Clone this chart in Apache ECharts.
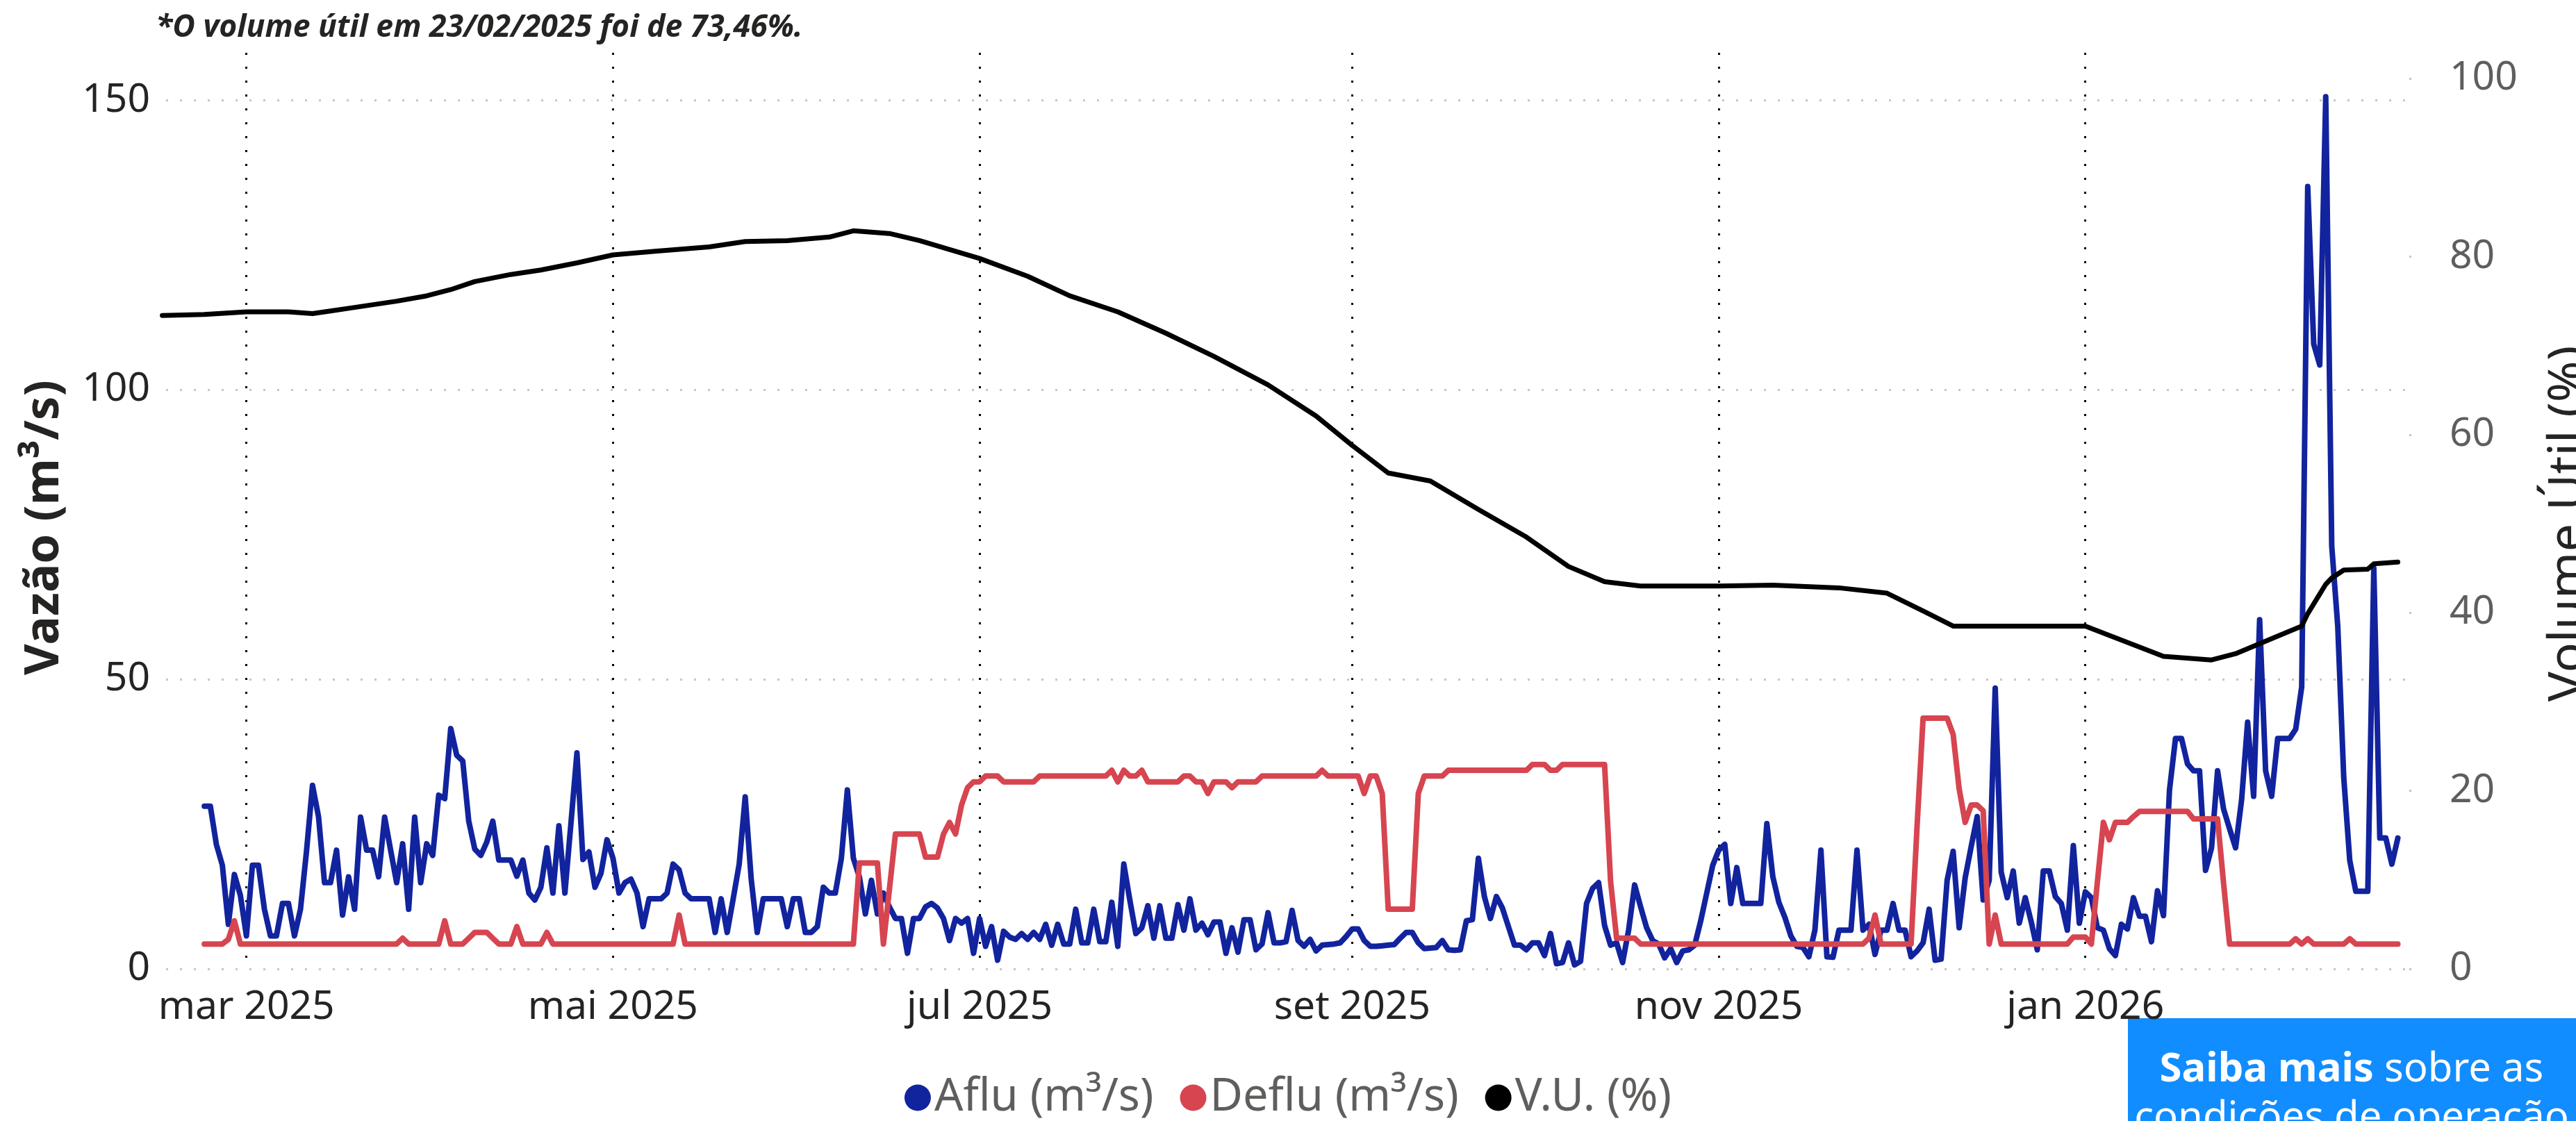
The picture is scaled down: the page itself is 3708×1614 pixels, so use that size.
<!DOCTYPE html>
<html>
<head>
	<meta charset="utf-8">
	<style>
		* { margin: 0; padding: 0; }
		html, body { width: 100%; height: 100%; background: #fff; overflow: hidden; }
		#chart { width: 3708px; height: 1614px; }
	</style>
</head>
<body>
	<div id="chart"></div>
	<script src="https://cdn.jsdelivr.net/npm/echarts@6/dist/echarts.min.js"></script>
	<script>
	// dados diarios a partir de 22/02/2025
	var startDate = [2025, 1, 22];

	var aflu = [
		28.1, 28.1, 21.5, 17.9, 7.7, 16.3, 12.7, 5.7, 17.9, 17.9,
		10.3, 5.7, 5.7, 11.3, 11.3, 5.7, 10.3, 20.3, 31.7, 26.3,
		14.9, 14.9, 20.5, 9.3, 15.9, 10.3, 26.2, 20.5, 20.5, 15.9,
		26.2, 20.5, 14.9, 21.6, 10.3, 26.2, 14.9, 21.6, 19.6, 30.0,
		29.4, 41.5, 36.9, 35.9, 25.5, 20.7, 19.6, 21.9, 25.5, 18.8,
		18.8, 18.8, 16.0, 18.8, 13.1, 11.9, 14.1, 20.9, 13.1, 24.7,
		13.1, 25.1, 37.3, 18.9, 20.2, 14.1, 16.5, 22.3, 19.1, 13.1,
		14.9, 15.5, 13.1, 7.3, 12.1, 12.1, 12.1, 13.1, 18.1, 17.1,
		13.1, 12.1, 12.1, 12.1, 12.1, 6.3, 12.1, 6.3, 12.1, 18.1,
		29.7, 15.5, 6.3, 12.1, 12.1, 12.1, 12.1, 7.3, 12.1, 12.1,
		6.3, 6.3, 7.3, 14.1, 13.1, 13.1, 19.1, 30.9, 19.1, 15.9,
		9.5, 15.3, 9.5, 13.1, 10.7, 8.7, 8.7, 2.7, 8.7, 8.7,
		10.7, 11.3, 10.5, 8.7, 4.9, 8.7, 7.9, 8.7, 2.7, 8.7,
		3.9, 7.3, 1.5, 6.5, 5.5, 5.1, 6.1, 5.1, 6.3, 5.1,
		7.7, 4.1, 7.7, 4.3, 4.3, 10.3, 4.5, 4.5, 10.3, 4.7,
		4.7, 11.5, 3.9, 18.1, 11.9, 6.1, 7.1, 10.9, 5.3, 10.9,
		5.3, 5.3, 11.1, 6.7, 12.1, 6.7, 7.9, 5.9, 8.1, 8.1,
		2.7, 7.1, 2.9, 8.5, 8.5, 3.3, 4.3, 9.7, 4.5, 4.5,
		4.7, 10.1, 4.9, 3.9, 5.1, 3.1, 4.1, 4.2, 4.3, 4.5,
		5.6, 6.9, 6.9, 4.9, 3.9, 3.9, 4.0, 4.1, 4.2, 5.3,
		6.3, 6.3, 4.5, 3.5, 3.6, 3.7, 4.9, 3.3, 3.2, 3.3,
		8.3, 8.5, 19.1, 12.5, 8.7, 12.5, 10.5, 7.3, 4.1, 4.1,
		3.3, 4.5, 4.5, 2.3, 6.1, 0.9, 1.1, 4.5, 0.7, 1.3,
		11.3, 13.9, 14.9, 7.5, 4.1, 4.5, 1.1, 6.7, 14.5, 10.7,
		7.1, 4.9, 4.3, 1.9, 3.5, 1.1, 3.1, 3.3, 4.1, 8.3,
		13.1, 17.9, 20.5, 21.5, 11.3, 17.5, 11.3, 11.3, 11.3, 11.3,
		25.1, 15.9, 11.5, 8.9, 5.7, 3.9, 3.7, 2.1, 6.7, 20.5,
		2.1, 2.0, 6.7, 6.7, 6.7, 20.5, 6.7, 7.7, 2.5, 6.7,
		6.7, 11.3, 6.7, 6.7, 2.1, 3.1, 4.5, 10.3, 1.5, 1.7,
		15.3, 20.3, 7.1, 15.7, 21.1, 26.3, 11.9, 15.3, 48.5, 16.7,
		12.3, 16.9, 7.9, 12.3, 8.1, 3.3, 16.9, 16.9, 12.5, 11.3,
		6.7, 21.3, 7.9, 13.3, 12.3, 7.1, 6.7, 3.5, 2.3, 7.7,
		6.9, 12.3, 9.1, 9.1, 4.7, 13.5, 9.2, 30.9, 39.8, 39.8,
		35.4, 34.2, 34.2, 17.0, 20.9, 34.2, 27.6, 24.2, 20.9, 29.2,
		42.6, 29.8, 60.3, 34.2, 29.8, 39.8, 39.8, 39.8, 41.4, 48.7,
		135.1, 107.9, 104.3, 150.6, 73.0, 59.2, 33.0, 18.7, 13.4, 13.4,
		13.4, 69.2, 22.6, 22.6, 18.1, 22.6
	];

	var deflu = [
		4.3, 4.3, 4.3, 4.3, 5.1, 8.3, 4.3, 4.3, 4.3, 4.3,
		4.3, 4.3, 4.3, 4.3, 4.3, 4.3, 4.3, 4.3, 4.3, 4.3,
		4.3, 4.3, 4.3, 4.3, 4.3, 4.3, 4.3, 4.3, 4.3, 4.3,
		4.3, 4.3, 4.3, 5.3, 4.3, 4.3, 4.3, 4.3, 4.3, 4.3,
		8.3, 4.3, 4.3, 4.3, 5.3, 6.3, 6.3, 6.3, 5.3, 4.3,
		4.3, 4.3, 7.3, 4.3, 4.3, 4.3, 4.3, 6.3, 4.3, 4.3,
		4.3, 4.3, 4.3, 4.3, 4.3, 4.3, 4.3, 4.3, 4.3, 4.3,
		4.3, 4.3, 4.3, 4.3, 4.3, 4.3, 4.3, 4.3, 4.3, 9.3,
		4.3, 4.3, 4.3, 4.3, 4.3, 4.3, 4.3, 4.3, 4.3, 4.3,
		4.3, 4.3, 4.3, 4.3, 4.3, 4.3, 4.3, 4.3, 4.3, 4.3,
		4.3, 4.3, 4.3, 4.3, 4.3, 4.3, 4.3, 4.3, 4.3, 18.3,
		18.3, 18.3, 18.3, 4.3, 13.8, 23.3, 23.3, 23.3, 23.3, 23.3,
		19.3, 19.3, 19.3, 23.3, 25.3, 23.3, 28.3, 31.3, 32.3, 32.3,
		33.3, 33.3, 33.3, 32.3, 32.3, 32.3, 32.3, 32.3, 32.3, 33.3,
		33.3, 33.3, 33.3, 33.3, 33.3, 33.3, 33.3, 33.3, 33.3, 33.3,
		33.3, 34.3, 32.3, 34.3, 33.3, 33.3, 34.3, 32.3, 32.3, 32.3,
		32.3, 32.3, 32.3, 33.3, 33.3, 32.3, 32.3, 30.3, 32.3, 32.3,
		32.3, 31.3, 32.3, 32.3, 32.3, 32.3, 33.3, 33.3, 33.3, 33.3,
		33.3, 33.3, 33.3, 33.3, 33.3, 33.3, 34.3, 33.3, 33.3, 33.3,
		33.3, 33.3, 33.3, 30.3, 33.3, 33.3, 30.3, 10.3, 10.3, 10.3,
		10.3, 10.3, 30.3, 33.3, 33.3, 33.3, 33.3, 34.3, 34.3, 34.3,
		34.3, 34.3, 34.3, 34.3, 34.3, 34.3, 34.3, 34.3, 34.3, 34.3,
		34.3, 35.3, 35.3, 35.3, 34.3, 34.3, 35.3, 35.3, 35.3, 35.3,
		35.3, 35.3, 35.3, 35.3, 15.1, 5.3, 5.3, 5.3, 5.3, 4.3,
		4.3, 4.3, 4.3, 4.3, 4.3, 4.3, 4.3, 4.3, 4.3, 4.3,
		4.3, 4.3, 4.3, 4.3, 4.3, 4.3, 4.3, 4.3, 4.3, 4.3,
		4.3, 4.3, 4.3, 4.3, 4.3, 4.3, 4.3, 4.3, 4.3, 4.3,
		4.3, 4.3, 4.3, 4.3, 4.3, 4.3, 4.3, 5.3, 9.3, 4.3,
		4.3, 4.3, 4.3, 4.3, 4.3, 24.7, 43.3, 43.3, 43.3, 43.3,
		43.3, 40.5, 31.1, 25.3, 28.3, 28.3, 27.3, 4.3, 9.3, 4.3,
		4.3, 4.3, 4.3, 4.3, 4.3, 4.3, 4.3, 4.3, 4.3, 4.3,
		4.3, 5.5, 5.5, 5.5, 4.3, 15.0, 25.3, 22.3, 25.3, 25.3,
		25.3, 26.3, 27.2, 27.2, 27.2, 27.2, 27.2, 27.2, 27.2, 27.2,
		27.2, 25.9, 25.9, 25.9, 25.9, 25.9, 14.8, 4.3, 4.3, 4.3,
		4.3, 4.3, 4.3, 4.3, 4.3, 4.3, 4.3, 4.3, 5.2, 4.3,
		5.2, 4.3, 4.3, 4.3, 4.3, 4.3, 4.3, 5.2, 4.3, 4.3,
		4.3, 4.3, 4.3, 4.3, 4.3, 4.3
	];

	// volume util (%), leituras ao longo da curva
	var vuDates = [
		'2025-02-15', '2025-02-22', '2025-03-01', '2025-03-08', '2025-03-12', '2025-03-15', '2025-03-19',
		'2025-03-26', '2025-03-31', '2025-04-04', '2025-04-08', '2025-04-14', '2025-04-19',
		'2025-04-25', '2025-05-01', '2025-05-08', '2025-05-17', '2025-05-23', '2025-05-30',
		'2025-06-06', '2025-06-10', '2025-06-16', '2025-06-21', '2025-07-01', '2025-07-09',
		'2025-07-16', '2025-07-24', '2025-08-01', '2025-08-09', '2025-08-18', '2025-08-26',
		'2025-09-01', '2025-09-07', '2025-09-14', '2025-09-22', '2025-09-30', '2025-10-07',
		'2025-10-13', '2025-10-19', '2025-11-01', '2025-11-10', '2025-11-21', '2025-11-29',
		'2025-12-05', '2025-12-10', '2025-12-21', '2026-01-01', '2026-01-14', '2026-01-22',
		'2026-01-26', '2026-02-01', '2026-02-06', '2026-02-07', '2026-02-09', '2026-02-10',
		'2026-02-11', '2026-02-13', '2026-02-17', '2026-02-18', '2026-02-22'
	];
	var vu = [
		73.4, 73.5, 73.8, 73.8, 73.6, 73.9, 74.3,
		75.0, 75.6, 76.3, 77.2, 78.0, 78.5,
		79.3, 80.2, 80.6, 81.1, 81.7, 81.8,
		82.2, 82.9, 82.6, 81.8, 79.8, 77.8,
		75.6, 73.8, 71.4, 68.8, 65.6, 62.1,
		58.8, 55.7, 54.8, 51.6, 48.5, 45.2,
		43.5, 43.0, 43.0, 43.1, 42.8, 42.2,
		40.2, 38.5, 38.5, 38.5, 35.1, 34.7,
		35.4, 37.1, 38.5, 39.9, 42.1, 43.2,
		43.9, 44.8, 44.9, 45.5, 45.7
	];

	var xTickDates = ['2025-03-01', '2025-05-01', '2025-07-01', '2025-09-01', '2025-11-01', '2026-01-01'];
	var xTickLabels = ['mar 2025', 'mai 2025', 'jul 2025', 'set 2025', 'nov 2025', 'jan 2026'];

	var seriesNames = ['Aflu (m³/s)', 'Deflu (m³/s)', 'V.U. (%)'];
	var seriesColors = ['#12239E', '#D64550', '#000000'];

	var FONT = 'Noto Sans';

	function parseDate(s) {
		var p = s.split('-');
		return new Date(+p[0], +p[1] - 1, +p[2]).getTime();
	}
	function dayTime(i) {
		return new Date(startDate[0], startDate[1], startDate[2] + i).getTime();
	}
	function daily(values) {
		return values.map(function (v, i) { return [dayTime(i), v]; });
	}

	var tickTimes = xTickDates.map(parseDate);
	var vuData = vuDates.map(function (d, i) { return [parseDate(d), vu[i]]; });

	var chart = echarts.init(document.getElementById('chart'));
	chart.setOption({
		animation: false,
		backgroundColor: '#fff',
		textStyle: { fontFamily: FONT },
		grid: [
			{ left: 226, right: 233, top: 76, bottom: 219 },
			{ left: 3468, width: 24, top: 113, bottom: 219 }
		],
		xAxis: [{
			type: 'value',
			gridIndex: 0,
			min: new Date(2025, 1, 14, 3).getTime(),
			max: new Date(2026, 1, 24, 17).getTime(),
			axisLine: { show: false },
			axisTick: { show: false, customValues: tickTimes },
			axisLabel: {
				customValues: tickTimes,
				fontSize: 57,
				color: '#252423',
				margin: 27,
				fontFamily: FONT,
				formatter: function (val) {
					var k = tickTimes.indexOf(val);
					return k >= 0 ? xTickLabels[k] : '';
				}
			},
			splitLine: {
				show: true,
				lineStyle: { color: '#000', width: 3, type: [3, 17] }
			}
		}, {
			type: 'value',
			gridIndex: 1,
			show: false
		}],
		yAxis: [{
			type: 'value',
			gridIndex: 0,
			position: 'left',
			min: 0,
			max: 158.2,
			interval: 50,
			axisLine: { show: false },
			axisTick: { show: false },
			axisLabel: { fontSize: 57, color: '#252423', margin: 10, showMaxLabel: false, fontFamily: FONT },
			splitLine: {
				show: true,
				showMaxLine: false,
				lineStyle: { color: '#C8C6C4', width: 3, type: [3, 17], dashOffset: 7 }
			},
			name: 'Vazão (m³/s)',
			nameLocation: 'middle',
			nameRotate: 90,
			nameGap: 127,
			nameTextStyle: {
				fontSize: 69, fontWeight: 'bold', color: '#252423', fontFamily: FONT,
				padding: [0, 48, 0, 0]
			}
		}, {
			type: 'value',
			gridIndex: 0,
			position: 'right',
			min: 0,
			max: 102.9,
			show: false
		}, {
			type: 'value',
			gridIndex: 1,
			position: 'right',
			min: 0,
			max: 100,
			interval: 20,
			axisLine: { show: false },
			axisTick: { show: false },
			axisLabel: { fontSize: 57, color: '#605E5C', margin: 52, fontFamily: FONT },
			splitLine: {
				show: true,
				lineStyle: { color: '#C8C6C4', width: 3, type: [3, 6] }
			},
			name: 'Volume Útil (%)',
			nameLocation: 'middle',
			nameRotate: 90,
			nameGap: 188,
			nameTextStyle: { fontSize: 72, color: '#252423', fontFamily: FONT }
		}],
		legend: {
			data: seriesNames,
			icon: 'circle',
			itemWidth: 38,
			itemHeight: 38,
			itemGap: 38,
			left: 'center',
			top: 1543,
			textStyle: { fontSize: 65, color: '#605E5C', fontFamily: FONT }
		},
		graphic: [{
			type: 'text',
			left: 224,
			top: 18,
			style: {
				text: '*O volume útil em 23/02/2025 foi de 73,46%.',
				fontSize: 44.5,
				fontWeight: 'bold',
				fontStyle: 'italic',
				fill: '#252423',
				fontFamily: FONT
			}
		}, {
			type: 'rect',
			shape: { x: 3063, y: 1466, width: 645, height: 148 },
			style: { fill: '#118DFF' }
		}, {
			type: 'text',
			x: 3385,
			y: 1505,
			style: {
				text: '{b|Saiba mais} sobre as\ncondições de operação',
				align: 'center',
				verticalAlign: 'top',
				fill: '#fff',
				fontSize: 58,
				lineHeight: 70,
				fontFamily: FONT,
				rich: {
					b: { fontWeight: 'bold', fontSize: 58, fill: '#fff', lineHeight: 70, fontFamily: FONT }
				}
			}
		}],
		series: [{
			name: seriesNames[0],
			type: 'line',
			xAxisIndex: 0,
			yAxisIndex: 0,
			data: daily(aflu),
			showSymbol: false,
			color: seriesColors[0],
			lineStyle: { width: 8, color: seriesColors[0], join: 'round', cap: 'round' }
		}, {
			name: seriesNames[1],
			type: 'line',
			xAxisIndex: 0,
			yAxisIndex: 0,
			data: daily(deflu),
			showSymbol: false,
			color: seriesColors[1],
			lineStyle: { width: 8, color: seriesColors[1], join: 'round', cap: 'round' }
		}, {
			name: seriesNames[2],
			type: 'line',
			xAxisIndex: 0,
			yAxisIndex: 1,
			data: vuData,
			showSymbol: false,
			color: seriesColors[2],
			lineStyle: { width: 7, color: seriesColors[2], join: 'round', cap: 'round' }
		}]
	});
	</script>
</body>
</html>
